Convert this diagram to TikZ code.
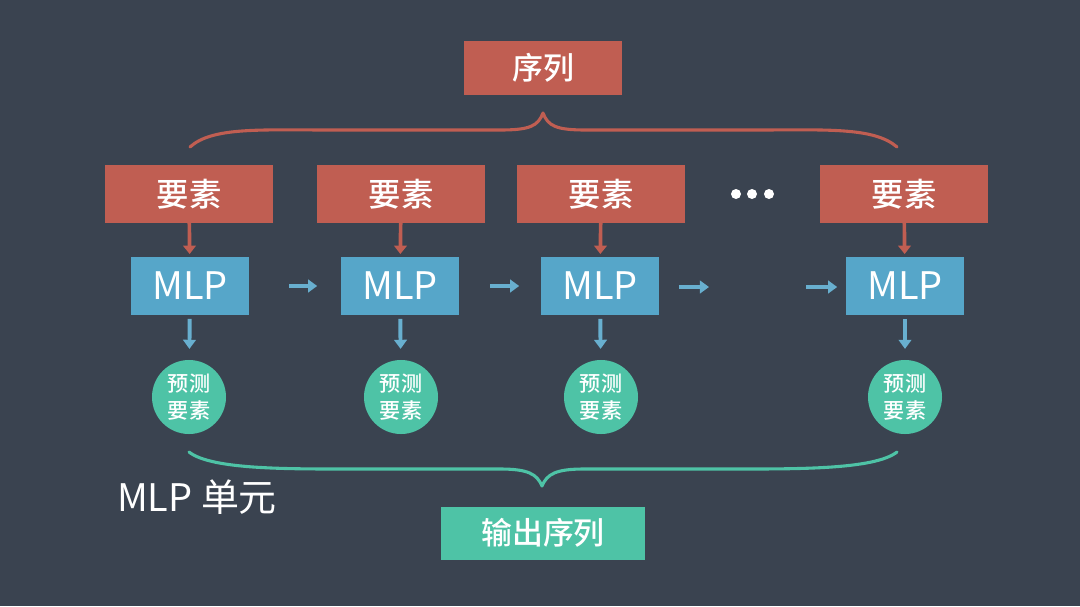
\documentclass[tikz,border=0pt]{standalone}
\usepackage{fontspec}
\setmainfont{Noto Sans CJK SC}
\newfontfamily\cjkmed{Noto Sans CJK SC Medium}
\usetikzlibrary{arrows.meta}
\definecolor{bgslate}{HTML}{3A4350}
\definecolor{seqred}{HTML}{C05E52}
\definecolor{mlpblue}{HTML}{56A6C9}
\definecolor{arrblue}{HTML}{68AFCF}
\definecolor{outteal}{HTML}{4EC3A6}

\begin{document}
\begin{tikzpicture}[x=0.025cm,y=-0.025cm,
    elembox/.style={fill=seqred,text=white,inner sep=0pt,minimum width=4.2cm,minimum height=1.425cm,font=\fontsize{23}{26}\selectfont\cjkmed},
    mlpbox/.style={fill=mlpblue,text=white,inner sep=0pt,minimum width=2.925cm,minimum height=1.425cm,font=\fontsize{27}{30}\selectfont},
    predcirc/.style={circle,fill=outteal,text=white,inner sep=0pt,minimum size=1.85cm,align=center,font=\fontsize{15}{19}\selectfont\cjkmed},
    redarr/.style={draw=seqred,line width=2.6pt,-{Triangle[length=6pt,width=9pt]}},
    bluearr/.style={draw=arrblue,line width=2.8pt,-{Triangle[length=6.5pt,width=9pt]}},
    bracepath/.style={line width=2.2pt,line cap=round,line join=round}]
  \fill[bgslate] (0,0) rectangle (1080,606);
  % sequence on top
  \node[elembox,minimum width=3.95cm,minimum height=1.325cm,font=\fontsize{22}{25}\selectfont\cjkmed] (seq) at (543,68) {序列};
  \draw[bracepath,seqred] (190,147) .. controls (212,127) and (260,130) .. (330,130) -- (500,130)
        .. controls (530,130) and (538,126) .. (543,113) .. controls (548,126) and (556,130) .. (586,130)
        -- (756,130) .. controls (826,130) and (874,127) .. (897,147);
  \node[elembox] (e1) at (189,194) {要素};
  \node[elembox] (e2) at (401,194) {要素};
  \node[elembox] (e3) at (601,194) {要素};
  \node[elembox] (e4) at (904,194) {要素};
  \node[circle,fill=white,inner sep=0pt,minimum size=0.25cm] (d1) at (736,194) {};
  \node[circle,fill=white,inner sep=0pt,minimum size=0.25cm] (d2) at (752,194) {};
  \node[circle,fill=white,inner sep=0pt,minimum size=0.25cm] (d3) at (769,194) {};
  % mlp cells
  \node[mlpbox] (m1) at (190,286) {MLP};
  \node[mlpbox] (m2) at (400,286) {MLP};
  \node[mlpbox] (m3) at (600,286) {MLP};
  \node[mlpbox] (m4) at (905,286) {MLP};
  \coordinate (h1) at (709,287);
  \coordinate (h2) at (806,287);
  % predicted elements
  \node[predcirc] (p1) at (189,397) {预测\\要素};
  \node[predcirc] (p2) at (401,397) {预测\\要素};
  \node[predcirc] (p3) at (601,397) {预测\\要素};
  \node[predcirc] (p4) at (905,397) {预测\\要素};
  \foreach \i in {1,2,3,4}{
    \draw[redarr,shorten >=0.08cm] (e\i) -- (m\i);
    \draw[bluearr,shorten <=0.1cm,shorten >=0.27cm] (m\i) -- (p\i);
  }
  \draw[bluearr,shorten <=1cm,shorten >=0.6cm] (m1) -- (m2);
  \draw[bluearr,shorten <=0.775cm,shorten >=0.55cm] (m2) -- (m3);
  \draw[bluearr,shorten <=0.5cm] (m3.east |- h1) -- (h1);
  \draw[bluearr,shorten >=0.225cm] (h2) -- (m4.west |- h2);
  % output sequence
  \draw[bracepath,outteal] (189,452) .. controls (212,470) and (290,469) .. (360,469) -- (500,469)
        .. controls (528,469) and (537,474) .. (542,486) .. controls (547,474) and (556,469) .. (584,469)
        -- (724,469) .. controls (794,469) and (874,470) .. (897,452);
  \node[text=white,font=\fontsize{27}{30}\selectfont] (unit) at (197,497) {MLP 单元};
  \node[fill=outteal,text=white,inner sep=0pt,minimum width=5.1cm,minimum height=1.325cm,font=\fontsize{22}{25}\selectfont\cjkmed] (out) at (543,533) {输出序列};
\end{tikzpicture}
\end{document}
